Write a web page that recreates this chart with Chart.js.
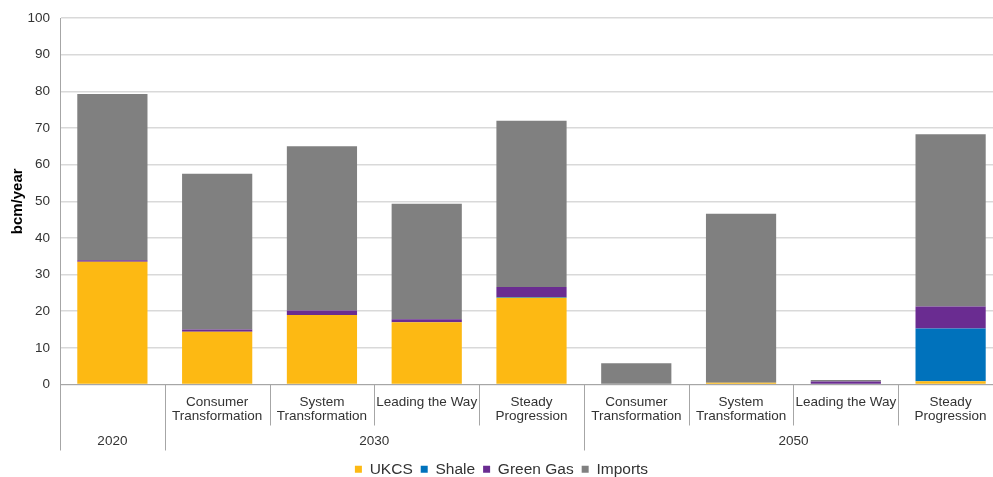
<!DOCTYPE html>
<html>
<head>
<meta charset="utf-8">
<script src="https://cdn.jsdelivr.net/npm/chart.js@4/dist/chart.umd.min.js"></script>
<style>
  html, body { margin: 0; padding: 0; background: #fff; overflow: hidden; }
  #wrap { width: 1003px; height: 477px; position: relative; }
</style>
</head>
<body>
<div id="wrap"><canvas id="c"></canvas></div>
<script>
// ---- data ----
const categories = [
  '',
  ['Consumer', 'Transformation'],
  ['System', 'Transformation'],
  'Leading the Way',
  ['Steady', 'Progression'],
  ['Consumer', 'Transformation'],
  ['System', 'Transformation'],
  'Leading the Way',
  ['Steady', 'Progression']
];
const groupLabels = ['2020', '2030', '2050'];
const groupSizes = [1, 4, 4];

const ukcs     = [33.5, 14.4, 19.0, 17.0, 23.7, 0.0, 0.5, 0.2, 0.9];
const shale    = [0.0, 0.0, 0.0, 0.0, 0.2, 0.0, 0.0, 0.0, 14.4];
const greenGas = [0.4, 0.6, 1.2, 0.8, 2.7, 0.0, 0.0, 0.6, 6.0];
const imports  = [45.4, 42.5, 44.8, 31.5, 45.4, 5.8, 46.1, 0.4, 47.0];

const yTicks = { min: 0, max: 100, step: 10 };
const yTitle = 'bcm/year';

// ---- styling ----
const FONT = "'Liberation Sans', Arial, sans-serif";
const AXIS_GREY = '#a6a6a6';

const groupPlugin = {
  id: 'groupAxis',
  afterDraw(chart) {
    const ctx = chart.ctx;
    const x = chart.scales.x;
    const area = chart.chartArea;
    const half = (x.getPixelForValue(1) - x.getPixelForValue(0)) / 2;
    const y0 = area.bottom;
    ctx.save();
    ctx.strokeStyle = AXIS_GREY;
    ctx.lineWidth = 1;
    let idx = 0;
    const groupStarts = [];
    groupSizes.forEach(n => { groupStarts.push(idx); idx += n; });
    for (let i = 0; i <= categories.length; i++) {
      const px = Math.round(x.getPixelForValue(i) - half) + 0.5;
      const isGroup = groupStarts.includes(i) || i === categories.length;
      ctx.beginPath();
      ctx.moveTo(px, y0);
      ctx.lineTo(px, y0 + (isGroup ? 66 : 41));
      ctx.stroke();
    }
    ctx.fillStyle = '#333';
    ctx.font = '13.5px ' + FONT;
    ctx.textAlign = 'center';
    ctx.textBaseline = 'middle';
    groupLabels.forEach((g, k) => {
      const s = groupStarts[k];
      const e = s + groupSizes[k] - 1;
      const cx = (x.getPixelForValue(s) + x.getPixelForValue(e)) / 2;
      ctx.fillText(g, cx, y0 + 57);
    });
    ctx.restore();
  }
};

const ds = (label, data, color) => ({
  label, data, backgroundColor: color, borderWidth: 0,
  barPercentage: 0.67, categoryPercentage: 1.0, stack: 's'
});

new Chart(document.getElementById('c'), {
  type: 'bar',
  data: {
    labels: categories,
    datasets: [
      ds('UKCS', ukcs, '#FDB913'),
      ds('Shale', shale, '#0072BC'),
      ds('Green Gas', greenGas, '#6A2C91'),
      ds('Imports', imports, '#808080')
    ]
  },
  options: {
    responsive: true,
    maintainAspectRatio: false,
    animation: false,
    layout: { padding: { top: 16, right: 0, left: 0, bottom: -10 } },
    plugins: {
      tooltip: { enabled: false },
      legend: {
        position: 'bottom',
        labels: {
          font: { family: FONT, size: 15.5 },
          color: '#333',
          usePointStyle: true,
          pointStyle: 'rect',
          boxWidth: 7,
          boxHeight: 7,
          padding: 8
        }
      }
    },
    scales: {
      x: {
        stacked: true,
        grid: { display: false, drawTicks: false },
        border: { display: true, color: AXIS_GREY, width: 1 },
        ticks: {
          font: { family: FONT, size: 13.5, lineHeight: 1.1 },
          color: '#333',
          padding: 10,
          maxRotation: 0,
          autoSkip: false
        },
        afterFit(s) { s.height = 69; }
      },
      y: {
        stacked: true,
        min: yTicks.min, max: yTicks.max,
        ticks: {
          stepSize: yTicks.step,
          font: { family: FONT, size: 13.5 },
          color: '#333',
          padding: 10
        },
        grid: { color: '#d9d9d9', lineWidth: 1.5, drawTicks: false },
        border: { display: true, color: AXIS_GREY, width: 1 },
        title: {
          display: true, text: yTitle,
          font: { family: FONT, size: 15, weight: 'bold' },
          color: '#000',
          padding: { top: 9, bottom: 0 }
        },
        afterFit(s) { s.width = 60; }
      }
    }
  },
  plugins: [groupPlugin]
});
</script>
</body>
</html>
